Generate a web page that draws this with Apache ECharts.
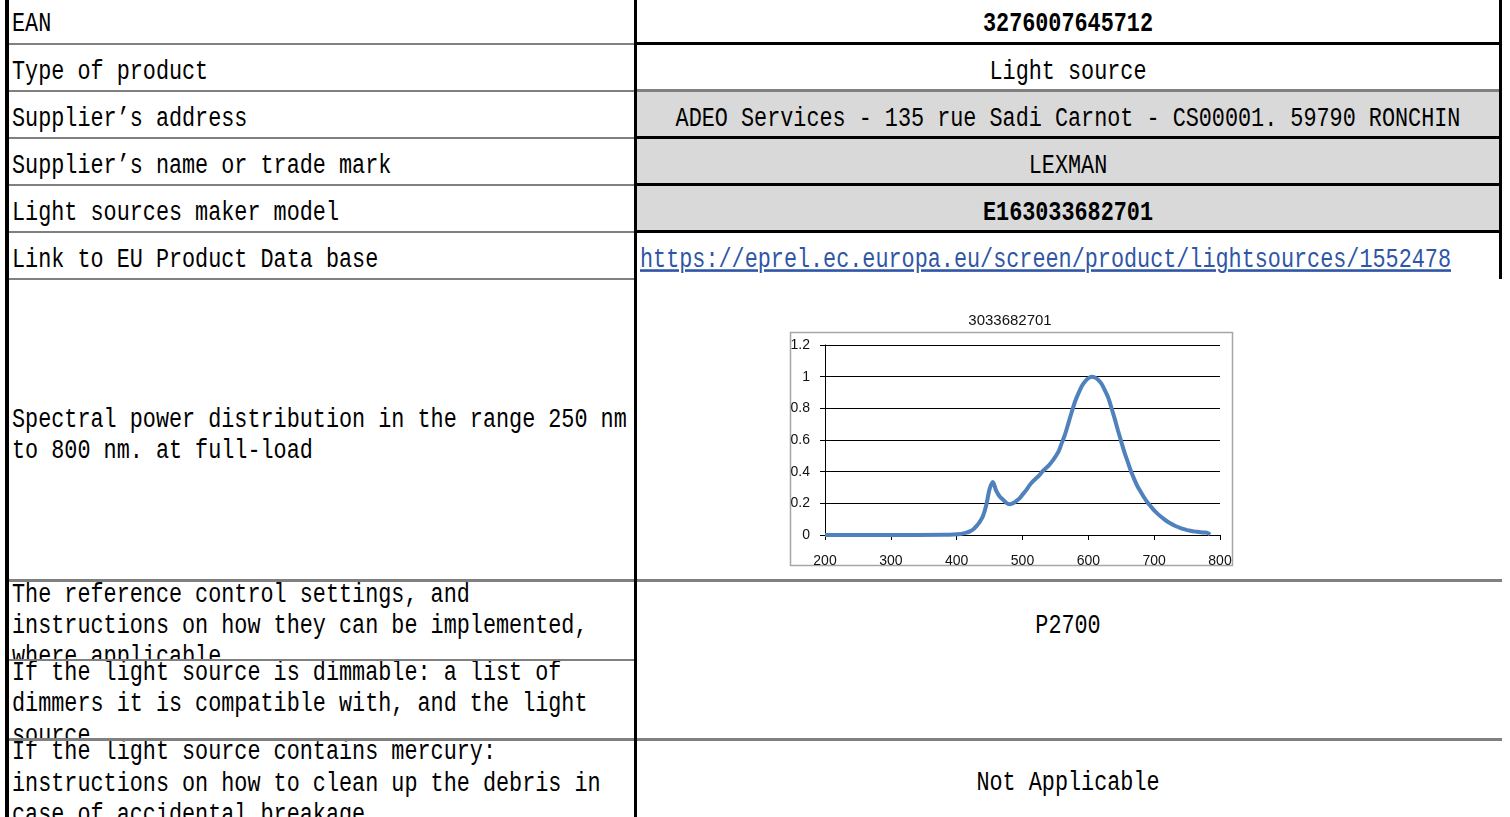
<!DOCTYPE html>
<html><head><meta charset="utf-8">
<script src="https://cdn.jsdelivr.net/npm/echarts@6/dist/echarts.min.js"></script>
<style>
html,body{margin:0;padding:0;background:#fff;}
#page{position:relative;width:1510px;height:817px;overflow:hidden;background:#fff;}
.cell{position:absolute;overflow:hidden;}
.ln{position:absolute;left:0;right:0;height:31px;line-height:31px;white-space:pre;
 font-family:"Liberation Mono",monospace;font-size:21.8px;color:#000;transform:scaleY(1.3);transform-origin:50% 50%;}
.l .ln{padding-left:3px;}
.r .ln{text-align:center;}
.b{font-weight:bold;}
.hl{position:absolute;background:#808080;height:2px;}
.hb{position:absolute;background:#000;height:3px;}
.v{position:absolute;background:#000;width:3px;}
a{color:#2f56a6;text-decoration:underline;}
#chart{position:absolute;left:780px;top:300px;width:460px;height:275px;}
</style></head>
<body><div id="page">
<!-- left column cells -->
<div class="cell l" style="left:9px;top:0;width:625px;height:43px;"><div class="ln" style="top:8px">EAN</div></div>
<div class="cell l" style="left:9px;top:45px;width:625px;height:45px;"><div class="ln" style="top:11px">Type of product</div></div>
<div class="cell l" style="left:9px;top:92px;width:625px;height:45px;"><div class="ln" style="top:11px">Supplier’s address</div></div>
<div class="cell l" style="left:9px;top:139px;width:625px;height:45px;"><div class="ln" style="top:11px">Supplier’s name or trade mark</div></div>
<div class="cell l" style="left:9px;top:186px;width:625px;height:45px;"><div class="ln" style="top:11px">Light sources maker model</div></div>
<div class="cell l" style="left:9px;top:233px;width:625px;height:45px;"><div class="ln" style="top:11px">Link to EU Product Data base</div></div>
<div class="cell l" style="left:9px;top:280px;width:625px;height:299px;">
 <div class="ln" style="top:124px">Spectral power distribution in the range 250 nm</div>
 <div class="ln" style="top:155px">to 800 nm. at full-load</div></div>
<div class="cell l" style="left:9px;top:581px;width:625px;height:78px;">
 <div class="ln" style="top:-2px">The reference control settings, and</div>
 <div class="ln" style="top:29px">instructions on how they can be implemented,</div>
 <div class="ln" style="top:60px">where applicable</div></div>
<div class="cell l" style="left:9px;top:661px;width:625px;height:77px;">
 <div class="ln" style="top:-4px">If the light source is dimmable: a list of</div>
 <div class="ln" style="top:27px">dimmers it is compatible with, and the light</div>
 <div class="ln" style="top:59px">source</div></div>
<div class="cell l" style="left:9px;top:741px;width:625px;height:76px;">
 <div class="ln" style="top:-5px">If the light source contains mercury:</div>
 <div class="ln" style="top:27px">instructions on how to clean up the debris in</div>
 <div class="ln" style="top:58px">case of accidental breakage</div></div>
<!-- right column cells -->
<div class="cell r" style="left:637px;top:0;width:862px;height:43px;"><div class="ln b" style="top:8px">3276007645712</div></div>
<div class="cell r" style="left:637px;top:45px;width:862px;height:45px;"><div class="ln" style="top:11px">Light source</div></div>
<div class="cell r" style="left:637px;top:92px;width:862px;height:45px;background:#d9d9d9;"><div class="ln" style="top:11px">ADEO Services - 135 rue Sadi Carnot - CS00001. 59790 RONCHIN</div></div>
<div class="cell r" style="left:637px;top:139px;width:862px;height:45px;background:#d9d9d9;"><div class="ln" style="top:11px">LEXMAN</div></div>
<div class="cell r" style="left:637px;top:186px;width:862px;height:45px;background:#d9d9d9;"><div class="ln b" style="top:11px">E163033682701</div></div>
<div class="cell" style="left:637px;top:233px;width:862px;height:46px;"><div class="ln" style="top:11px;padding-left:3px;"><a>https://eprel.ec.europa.eu/screen/product/lightsources/1552478</a></div></div>
<div class="cell r" style="left:637px;top:582px;width:862px;height:156px;"><div class="ln" style="top:28px">P2700</div></div>
<div class="cell r" style="left:637px;top:741px;width:862px;height:76px;"><div class="ln" style="top:26px">Not Applicable</div></div>
<!-- lines -->
<div class="hl" style="left:9px;top:43px;width:625px"></div>
<div class="hl" style="left:9px;top:90px;width:625px"></div>
<div class="hl" style="left:9px;top:137px;width:625px"></div>
<div class="hl" style="left:9px;top:184px;width:625px"></div>
<div class="hl" style="left:9px;top:231px;width:625px"></div>
<div class="hl" style="left:9px;top:278px;width:625px"></div>
<div class="hl" style="left:9px;top:579px;width:1493px;height:3px"></div>
<div class="hl" style="left:9px;top:659px;width:625px"></div>
<div class="hl" style="left:9px;top:738px;width:1493px;height:3px"></div>
<div class="hb" style="left:637px;top:42px;width:865px"></div>
<div class="hl" style="left:637px;top:89px;width:865px;height:3px"></div>
<div class="hb" style="left:637px;top:136px;width:865px"></div>
<div class="hb" style="left:637px;top:183px;width:865px"></div>
<div class="hb" style="left:637px;top:230px;width:865px"></div>
<div class="v" style="left:5px;top:0;height:817px;width:4px"></div>
<div class="v" style="left:634px;top:0;height:817px;"></div>
<div class="v" style="left:1499px;top:0;height:279px;"></div>
<div id="chart"></div>
</div>
<script>
var chartTitle = "3033682701";
var wavelengths = [200,300,380,390,395,400,405,410,415,420,425,430,435,440,445,450,455,460,465,470,475,480,485,490,495,500,505,510,515,520,525,530,535,540,545,550,555,560,565,570,575,580,585,590,595,600,605,610,615,620,625,630,635,640,645,650,655,660,665,670,675,680,685,690,695,700,705,710,715,720,725,730,735,740,745,750,755,760,765,770,775,780,785];
var intensity   = [0,0,0.001,0.002,0.003,0.004,0.006,0.01,0.015,0.023,0.035,0.056,0.083,0.12,0.19,0.29,0.335,0.28,0.245,0.225,0.205,0.195,0.2,0.213,0.23,0.255,0.28,0.31,0.335,0.355,0.375,0.4,0.42,0.44,0.465,0.495,0.53,0.585,0.64,0.71,0.78,0.845,0.895,0.94,0.97,0.99,1.0,0.995,0.98,0.955,0.915,0.87,0.805,0.735,0.66,0.59,0.52,0.46,0.40,0.35,0.305,0.27,0.235,0.205,0.18,0.155,0.135,0.117,0.1,0.085,0.073,0.062,0.052,0.044,0.037,0.031,0.027,0.023,0.02,0.018,0.016,0.015,0.003];
var xTicks = [200,300,400,500,600,700,800];
var yTicks = [0,0.2,0.4,0.6,0.8,1,1.2];

var chart = echarts.init(document.getElementById('chart'));
var pts = wavelengths.map(function(w,i){return [w,intensity[i]];});
chart.setOption({
  animation:false,
  title:{text:chartTitle,left:'center',top:8,textStyle:{fontFamily:'Liberation Sans, Arial',fontSize:15,fontWeight:'normal',color:'#111'}},
  graphic:[{type:'rect',shape:{x:10.5,y:32.5,width:442,height:233},style:{fill:'none',stroke:'#a6a6a6',lineWidth:1.5},z:-1}],
  grid:{left:45,right:20,top:45,bottom:40},
  xAxis:{type:'value',min:xTicks[0],max:xTicks[xTicks.length-1],interval:100,
    axisLine:{lineStyle:{color:'#000',width:1}},
    axisTick:{show:true,inside:false,length:5,lineStyle:{color:'#000'}},
    axisLabel:{color:'#111',fontFamily:'Liberation Sans, Arial',fontSize:14,margin:19},
    splitLine:{show:false}},
  yAxis:{type:'value',min:yTicks[0],max:yTicks[yTicks.length-1],interval:0.2,
    axisLine:{show:true,lineStyle:{color:'#000',width:1}},
    axisTick:{show:true,inside:false,length:5,lineStyle:{color:'#000'}},
    axisLabel:{color:'#111',fontFamily:'Liberation Sans, Arial',fontSize:14,margin:15,
      formatter:function(v){return String(parseFloat(v.toFixed(1)));}},
    splitLine:{show:true,lineStyle:{color:'#000',width:1}}},
  series:[{type:'line',data:pts,smooth:0.3,showSymbol:false,
    lineStyle:{color:'#4f81bd',width:4},itemStyle:{color:'#4f81bd'}}]
});
</script>
</body></html>
